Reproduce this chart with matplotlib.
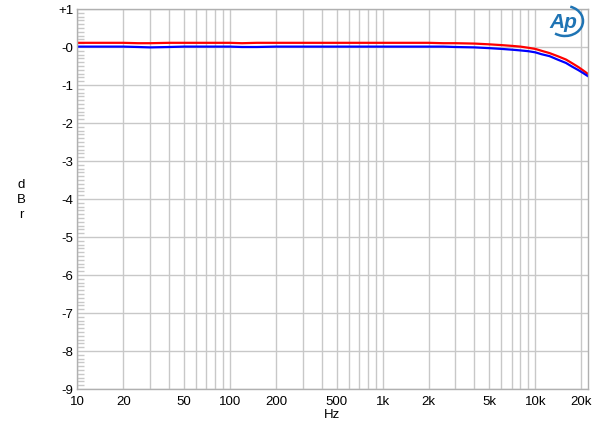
import numpy as np
import matplotlib
matplotlib.use("Agg")
import matplotlib.pyplot as plt
from matplotlib.ticker import FixedLocator, NullFormatter, MultipleLocator
from matplotlib.patches import Arc

plt.rcParams['font.family'] = ['Liberation Sans', 'DejaVu Sans']

freq = [10, 15, 20, 25, 30, 40, 50, 70, 100, 120, 150, 200, 300, 500, 700, 1000,
        1500, 2000, 2500, 3000, 4000, 5000, 6000, 7000, 8000, 9000, 10000, 11000,
        12400, 14000, 15900, 17500, 19200, 20500, 22000]
red_db = [0.11, 0.11, 0.11, 0.10, 0.10, 0.11, 0.11, 0.11, 0.11, 0.10, 0.11, 0.11, 0.11, 0.11, 0.11, 0.11,
          0.11, 0.11, 0.10, 0.10, 0.09, 0.07, 0.05, 0.03, 0.01, -0.02, -0.05, -0.10,
          -0.16, -0.24, -0.33, -0.43, -0.53, -0.61, -0.70]
blue_db = [0.01, 0.01, 0.01, 0.00, -0.01, 0.00, 0.01, 0.01, 0.01, 0.00, 0.00, 0.01, 0.01, 0.01, 0.01, 0.01,
           0.01, 0.01, 0.01, 0.00, -0.01, -0.03, -0.05, -0.07, -0.09, -0.11, -0.14, -0.19,
           -0.24, -0.33, -0.42, -0.52, -0.61, -0.68, -0.76]

xticks = [10, 20, 50, 100, 200, 500, 1000, 2000, 5000, 10000, 20000]
xticklabels = ['10', '20', '50', '100', '200', '500', '1k', '2k', '5k', '10k', '20k']
yticks = [1, 0, -1, -2, -3, -4, -5, -6, -7, -8, -9]
yticklabels = ['+1', '-0', '-1', '-2', '-3', '-4', '-5', '-6', '-7', '-8', '-9']

fig = plt.figure(figsize=(6, 4.35), dpi=100)
ax = fig.add_axes([77.3/600, 1-390/435, (587.5-77.3)/600, 380/435])

ax.set_xscale('log')
ax.set_xlim(10, 22000)
ax.set_ylim(-9, 1)

minor_x = [m * 10**d for d in range(1, 5) for m in range(2, 10) if m * 10**d <= 22000]
ax.xaxis.set_major_locator(FixedLocator(xticks))
ax.xaxis.set_minor_locator(FixedLocator(minor_x))
ax.xaxis.set_minor_formatter(NullFormatter())
ax.set_xticklabels(xticklabels)
ax.set_yticks(yticks)
ax.set_yticklabels(yticklabels)
ax.yaxis.set_minor_locator(MultipleLocator(0.1))

ax.grid(True, which='major', axis='both', color='#c8c8c8', lw=1.0)
ax.grid(True, which='minor', axis='x', color='#c8c8c8', lw=1.0)
ax.tick_params(axis='x', which='both', length=0, labelsize=9.5, pad=4, colors='black')
ax.tick_params(axis='y', which='major', length=0, labelsize=9.5, pad=3)
ax.tick_params(axis='y', which='minor', direction='in', length=5, color='#c8c8c8', width=1)
for s in ax.spines.values():
    s.set_color('#b0b0b0')
    s.set_linewidth(1.0)

ax.plot(freq, red_db, color='#ff0000', lw=1.6)
ax.plot(freq, blue_db, color='#0000ff', lw=1.6)

ax.set_xlabel('Hz', fontsize=9.5, labelpad=1)
fig.text(21/600, 1-200/435, 'd\nB\nr', ha='center', va='center', fontsize=9.5, linespacing=1.3)

# Ap logo
logo_col = '#1f74b4'
fig.text(563/600, 1-22/435, 'Ap', ha='center', va='center', fontsize=15, style='italic',
         weight='bold', color=logo_col, family=['Liberation Sans'])
arc = Arc((565/600, 1-22/435), 36/600, 30/435, angle=0, theta1=-120, theta2=75,
          transform=fig.transFigure, color=logo_col, lw=1.8)
fig.add_artist(arc)

fig.savefig('out.png', dpi=100)
